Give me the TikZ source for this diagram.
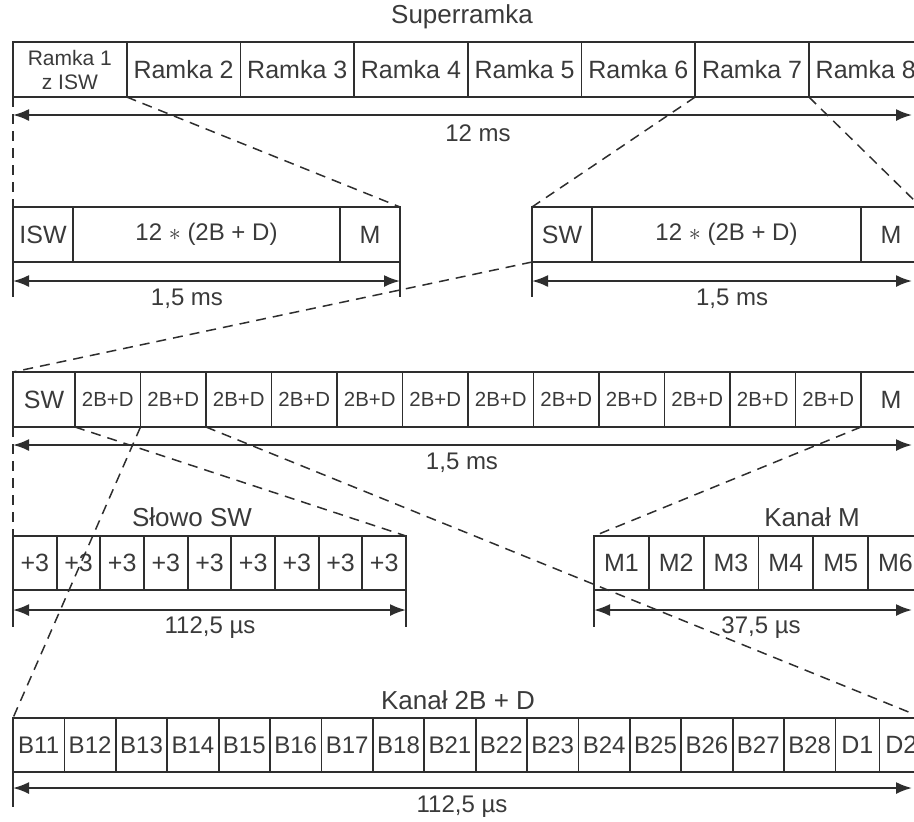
\documentclass[tikz,border=0pt]{standalone}
\usepackage{fontspec}
\setmainfont{Liberation Sans}
\usetikzlibrary{arrows.meta}

\definecolor{linegray}{HTML}{2E2E2E}
\definecolor{textgray}{HTML}{3A3A3A}

\tikzset{
	cell/.style={draw=linegray, line width=0.9pt, rectangle, inner sep=0pt, outer sep=0pt,
		minimum height=27.5pt, text=textgray, font=\fontsize{12.5}{14}\selectfont},
	zoomline/.style={draw=linegray, line width=0.75pt, dash pattern=on 5pt off 3.5pt},
	span/.style={draw=linegray, line width=1pt,
		{Latex[length=8pt,width=6pt]}-{Latex[length=8pt,width=6pt]}},
	tick/.style={draw=linegray, line width=0.9pt},
	caption/.style={text=textgray, font=\fontsize{12}{14}\selectfont, inner sep=0pt},
	title/.style={text=textgray, font=\fontsize{13}{15}\selectfont, inner sep=0pt}
}

\begin{document}
\begin{tikzpicture}[x=0.5pt, y=-0.5pt]
	\useasboundingbox (0,0) rectangle (914,821);
	\clip (0,0) rectangle (914,821);

	% Superramka:
	\node[cell, minimum width=56.85pt, align=center, font=\fontsize{10.5}{12}\selectfont] (ramka1) at (69.85,69.5) {Ramka 1\\z ISW};
	\foreach \i in {2,...,8}
		\node[cell, minimum width=56.85pt] (ramka\i) at ({13+(\i-0.5)*113.7},69.5) {Ramka \i};

	% Ramki 1,5 ms:
	\node[cell, minimum width=30pt] (isw) at (43,234.5) {ISW};
	\node[cell, minimum width=133.5pt, font=\fontsize{12}{14}\selectfont] (mida) at (206.5,234.5) {12 $\ast$ (2B + D)};
	\node[cell, minimum width=30pt] (ma) at (370,234.5) {M};

	\node[cell, minimum width=30pt] (swb) at (562,234.5) {SW};
	\node[cell, minimum width=134.5pt, font=\fontsize{12}{14}\selectfont] (midb) at (726.5,234.5) {12 $\ast$ (2B + D)};
	\node[cell, minimum width=30pt] (mb) at (891,234.5) {M};

	% Ramka rozwinieta:
	\node[cell, minimum width=31pt] (sw3) at (44,399.5) {SW};
	\foreach \i in {1,...,12}
		\node[cell, minimum width=32.75pt, font=\fontsize{10.2}{12}\selectfont] (c\i) at ({75+(\i-0.5)*65.5},399.5) {2B+D};
	\node[cell, minimum width=30pt] (m3) at (891,399.5) {M};

	% Slowo SW, kanal M:
	\foreach \i in {1,...,9}
		\node[cell, minimum width=21.835pt, minimum height=27pt] (p\i) at ({13+(\i-0.5)*43.67},563) {+3};
	\foreach \i in {1,...,6}
		\node[cell, minimum width=27.4pt, minimum height=27pt] (km\i) at ({594+(\i-0.5)*54.8},563) {M\i};

	% Kanal 2B + D:
	\foreach \lab [count=\i] in {B11,B12,B13,B14,B15,B16,B17,B18,B21,B22,B23,B24,B25,B26,B27,B28}
		\node[cell, minimum width=25.7pt, minimum height=27pt, font=\fontsize{12}{14}\selectfont] (b\i) at ({13+(\i-0.5)*51.4},745) {\lab};
	\node[cell, minimum width=22pt, minimum height=27pt] (d1) at (857.4,745) {D1};
	\node[cell, minimum width=22pt, minimum height=27pt] (d2) at (901.4,745) {D2};

	% Lines:
	\draw[zoomline] (ramka1.south west) -- (isw.north west);
	\draw[zoomline] (ramka1.south east) -- (ma.north east);
	\draw[zoomline] (ramka7.south west) -- (swb.north west);
	\draw[zoomline] (ramka7.south east) -- (mb.north east);
	\draw[zoomline] (swb.south west) -- (sw3.north west);
	\draw[zoomline] (sw3.south west) -- (p1.north west);
	\draw[zoomline] (sw3.south east) -- (p9.north east);
	\draw[zoomline] (c2.south west) -- (b1.north west);
	\draw[zoomline] (c2.south east) -- (d2.north east);
	\draw[zoomline] (m3.south west) -- (km1.north west);

	\draw[tick] (isw.south west) -- ++(0,35);
	\draw[tick] (ma.south east) -- ++(0,35);
	\draw[tick] (swb.south west) -- ++(0,35);
	\draw[tick] (p1.south west) -- ++(0,37);
	\draw[tick] (p9.south east) -- ++(0,37);
	\draw[tick] (km1.south west) -- ++(0,37);
	\draw[tick] (b1.south west) -- ++(0,35);

	% Arrows:
	\coordinate (s1a) at (13,115);  \coordinate (s1b) at (912,115);
	\coordinate (s2a) at (13,281);  \coordinate (s2b) at (400,281);
	\coordinate (s3a) at (532,281); \coordinate (s3b) at (912,281);
	\coordinate (s4a) at (13,445);  \coordinate (s4b) at (912,445);
	\coordinate (s5a) at (13,610);  \coordinate (s5b) at (406,610);
	\coordinate (s6a) at (594,610); \coordinate (s6b) at (912,610);
	\coordinate (s7a) at (13,788);  \coordinate (s7b) at (912,788);
	\foreach \s in {1,...,7}
		\draw[span] (s\s a) -- (s\s b);

	% Labels:
	\node[title] (superramka) at (462,17) {Superramka};
	\node[title] (slowo) at (192,517) {Słowo SW};
	\node[title] (kanalm) at (812,517) {Kanał M};
	\node[title] (kanalb) at (458,700) {Kanał 2B + D};

	\node[caption] (t1) at (478,133) {12 ms};
	\node[caption] (t2) at (187,299) {1,5 ms};
	\node[caption] (t3) at (732,299) {1,5 ms};
	\node[caption] (t4) at (462,463) {1,5 ms};
	\node[caption] (t5) at (210,628) {112,5 µs};
	\node[caption] (t6) at (761,628) {37,5 µs};
	\node[caption] (t7) at (462,807) {112,5 µs};

\end{tikzpicture}
\end{document}
